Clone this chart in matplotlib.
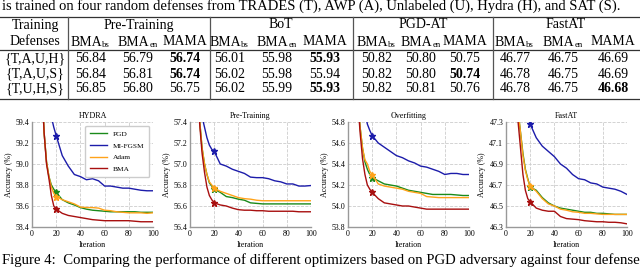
import matplotlib
matplotlib.use("Agg")
import matplotlib.pyplot as plt

plt.rcParams['font.family'] = ['Liberation Serif', 'DejaVu Serif']

# ---- table data ----
row_labels = ['{T,A,U,H}', '{T,A,U,S}', '{T,U,H,S}']
groups = ['Pre-Training', 'BoT', 'PGD-AT', 'FastAT']
sub_cols = [('BMA', 'bs'), ('BMA', 'en'), ('MAMA', '')]
table_vals = [
    ['56.84', '56.79', '56.74', '56.01', '55.98', '55.93', '50.82', '50.80', '50.75', '46.77', '46.75', '46.69'],
    ['56.84', '56.81', '56.74', '56.02', '55.98', '55.94', '50.82', '50.80', '50.74', '46.78', '46.75', '46.69'],
    ['56.85', '56.80', '56.75', '56.02', '55.99', '55.93', '50.82', '50.81', '50.76', '46.78', '46.75', '46.68'],
]
bold_cells = [(0, 2), (0, 5), (1, 2), (1, 8), (2, 5), (2, 11)]

# ---- curve data ----
iters = [5, 10, 12, 14, 16, 18, 20, 25, 30, 35, 40, 45, 50, 55, 60, 65, 70, 75, 80, 85, 90, 95, 100]

hydra_pgd = [60.5, 59.3, 59.02, 58.88, 58.8, 58.76, 58.73, 58.66, 58.63, 58.61, 58.585, 58.57, 58.56, 58.555,
             58.55, 58.545, 58.545, 58.545, 58.545, 58.545, 58.54, 58.54, 58.54]
hydra_mifgsm = [61.5, 60.4, 60.0, 59.7, 59.45, 59.35, 59.27, 59.08, 58.98, 58.9, 58.88, 58.85, 58.86, 58.84,
                58.79, 58.79, 58.78, 58.77, 58.77, 58.76, 58.75, 58.745, 58.745]
hydra_adam = [60.5, 59.3, 59.02, 58.88, 58.78, 58.72, 58.69, 58.66, 58.64, 58.62, 58.59, 58.585, 58.585, 58.58,
              58.56, 58.555, 58.545, 58.54, 58.535, 58.535, 58.535, 58.53, 58.535]
hydra_bma = [60.5, 59.3, 59.0, 58.86, 58.7, 58.6, 58.57, 58.53, 58.51, 58.5, 58.49, 58.48, 58.47, 58.465,
             58.46, 58.46, 58.46, 58.46, 58.46, 58.455, 58.45, 58.45, 58.45]

pre_pgd = [57.8, 57.15, 57.0, 56.9, 56.82, 56.79, 56.76, 56.73, 56.69, 56.68, 56.665, 56.655, 56.63, 56.625,
           56.62, 56.62, 56.62, 56.62, 56.62, 56.62, 56.62, 56.62, 56.62]
pre_mifgsm = [58.3, 57.45, 57.35, 57.25, 57.18, 57.14, 57.12, 57.0, 56.98, 56.95, 56.93, 56.91, 56.875, 56.87,
              56.87, 56.86, 56.84, 56.83, 56.81, 56.81, 56.79, 56.79, 56.795]
pre_adam = [57.8, 57.15, 57.0, 56.9, 56.83, 56.8, 56.77, 56.74, 56.72, 56.7, 56.68, 56.67, 56.665, 56.655,
            56.65, 56.65, 56.65, 56.65, 56.65, 56.65, 56.65, 56.65, 56.65]
pre_bma = [57.8, 57.1, 56.92, 56.78, 56.7, 56.66, 56.63, 56.61, 56.6, 56.58, 56.565, 56.56, 56.56, 56.555,
           56.555, 56.55, 56.55, 56.55, 56.55, 56.55, 56.545, 56.545, 56.545]

over_pgd = [55.5, 54.75, 54.55, 54.42, 54.35, 54.3, 54.27, 54.24, 54.21, 54.2, 54.19, 54.17, 54.15, 54.14,
            54.13, 54.12, 54.11, 54.11, 54.11, 54.11, 54.105, 54.1, 54.1]
over_mifgsm = [56.5, 55.3, 55.1, 54.9, 54.78, 54.72, 54.67, 54.6, 54.56, 54.52, 54.48, 54.46, 54.43, 54.41,
               54.38, 54.37, 54.35, 54.33, 54.3, 54.31, 54.31, 54.3, 54.3]
over_adam = [55.5, 54.75, 54.55, 54.44, 54.4, 54.33, 54.3, 54.21, 54.19, 54.18, 54.17, 54.16, 54.14, 54.13,
             54.12, 54.09, 54.085, 54.08, 54.08, 54.08, 54.08, 54.08, 54.08]
over_bma = [55.5, 54.7, 54.45, 54.3, 54.2, 54.16, 54.13, 54.07, 54.03, 54.02, 54.01, 54.0, 54.0, 53.99,
            53.98, 53.97, 53.97, 53.97, 53.97, 53.97, 53.97, 53.97, 53.97]

fast_pgd = [48.2, 47.4, 47.2, 47.0, 46.85, 46.76, 46.68, 46.65, 46.58, 46.53, 46.5, 46.48, 46.47, 46.46,
            46.45, 46.44, 46.44, 46.43, 46.43, 46.425, 46.42, 46.42, 46.42]
fast_mifgsm = [49.0, 48.2, 47.9, 47.65, 47.45, 47.35, 47.28, 47.15, 47.07, 47.02, 46.97, 46.9, 46.86, 46.8,
               46.76, 46.75, 46.72, 46.71, 46.68, 46.67, 46.66, 46.64, 46.61]
fast_adam = [48.2, 47.4, 47.2, 46.98, 46.84, 46.75, 46.69, 46.64, 46.57, 46.52, 46.5, 46.47, 46.46, 46.445,
             46.44, 46.43, 46.43, 46.425, 46.42, 46.42, 46.42, 46.42, 46.42]
fast_bma = [48.2, 47.3, 47.05, 46.8, 46.65, 46.57, 46.54, 46.48, 46.46, 46.45, 46.45, 46.4, 46.38, 46.375,
            46.37, 46.36, 46.355, 46.35, 46.35, 46.345, 46.345, 46.34, 46.33]

panel_titles = ['HYDRA', 'Pre-Training', 'Overfitting', 'FastAT']
panel_ylims = [(58.4, 59.4), (56.4, 57.4), (53.8, 54.8), (46.3, 47.3)]
panel_data = [
    [hydra_pgd, hydra_mifgsm, hydra_adam, hydra_bma],
    [pre_pgd, pre_mifgsm, pre_adam, pre_bma],
    [over_pgd, over_mifgsm, over_adam, over_bma],
    [fast_pgd, fast_mifgsm, fast_adam, fast_bma],
]
methods = ['PGD', 'MI-FGSM', 'Adam', 'BMA']
colors = ['#1a8a1a', '#1c1caa', '#ffa31a', '#a80f0f']
star_iter = 20

W, H = 640, 269
fig = plt.figure(figsize=(W / 100, H / 100), dpi=100)

# page-like overlay in pixel coords for caption + table
pax = fig.add_axes([0, 0, 1, 1])
pax.set_xlim(0, W)
pax.set_ylim(H, 0)
pax.axis('off')

pax.text(2, 6.5, 'is trained on four random defenses from TRADES (T), AWP (A), Unlabeled (U), Hydra (H), and SAT (S).',
         fontsize=10.5, va='center', ha='left')

# rules
for yy in [16.5, 50, 99]:
    pax.plot([0, W], [yy, yy], color='#333333', lw=0.9)
for xx in [68, 210, 353, 493]:
    pax.plot([xx, xx], [16.5, 99], color='#555555', lw=0.9)

col_x = [91, 138, 185, 230, 277, 325, 377, 421, 465, 515, 563, 613]
group_x = [139, 281, 423, 566]
row_y = [59, 74, 89]
fs = 10
pax.text(35, 25, 'Training', fontsize=fs, ha='center', va='center')
pax.text(35, 41.5, 'Defenses', fontsize=fs, ha='center', va='center')
for g, gx in zip(groups, group_x):
    pax.text(gx, 25, g, fontsize=fs, ha='center', va='center')
for j, cx in enumerate(col_x):
    main, sub = sub_cols[j % 3]
    if sub:
        pax.text(cx + 11, 45.5, main, fontsize=fs, ha='right', va='baseline')
        pax.text(cx + 11.3, 46.6, sub, fontsize=6.3, ha='left', va='baseline')
    else:
        pax.text(cx, 41.5, main, fontsize=fs, ha='center', va='center')
for i, (lab, ry) in enumerate(zip(row_labels, row_y)):
    pax.text(35, ry, lab, fontsize=fs, ha='center', va='center')
    for j, cx in enumerate(col_x):
        w = 'bold' if (i, j) in bold_cells else 'normal'
        pax.text(cx, ry, table_vals[i][j], fontsize=fs, ha='center', va='center', fontweight=w)

pax.text(2, 260, 'Figure 4:  Comparing the performance of different optimizers based on PGD adversary against four defense',
         fontsize=10.65, va='center', ha='left')

# ---- curve panels ----
lefts = [32, 190, 348, 506]
ax_w, ax_top, ax_bot = 121, 122, 227
for k in range(4):
    ax = fig.add_axes([lefts[k] / W, (H - ax_bot) / H, ax_w / W, (ax_bot - ax_top) / H])
    for series, c, m in zip(panel_data[k], colors, methods):
        ax.plot(iters, series, color=c, lw=1.0, label=m)
        si = iters.index(star_iter)
        ax.plot([star_iter], [series[si]], marker='*', color=c, ms=4.5, ls='none')
    lo, hi = panel_ylims[k]
    ax.set_xlim(0, 100)
    ax.set_ylim(lo, hi)
    ax.set_xticks([0, 20, 40, 60, 80, 100])
    ax.set_yticks([round(lo + 0.2 * t, 1) for t in range(6)])
    ax.set_yticklabels(['%.1f' % (lo + 0.2 * t) for t in range(6)])
    ax.grid(True, ls='--', color='#cccccc', lw=0.6)
    ax.tick_params(labelsize=5.7, length=0, pad=2)
    for s in ['top', 'right']:
        ax.spines[s].set_visible(False)
    for s in ['left', 'bottom']:
        ax.spines[s].set_color('#999999')
        ax.spines[s].set_linewidth(1.0)
    ax.set_title(panel_titles[k], fontsize=5.8, pad=3)
    ax.set_xlabel('Iteration', fontsize=5.8, labelpad=2)
    ax.set_ylabel('Accuracy (%)', fontsize=5.8, labelpad=2)
    if k == 0:
        ax.legend(loc='upper right', fontsize=5.3, handlelength=2.2, borderpad=0.7,
                  labelspacing=0.75, edgecolor='#cccccc', framealpha=1.0)

fig.savefig('out.png', dpi=100)
